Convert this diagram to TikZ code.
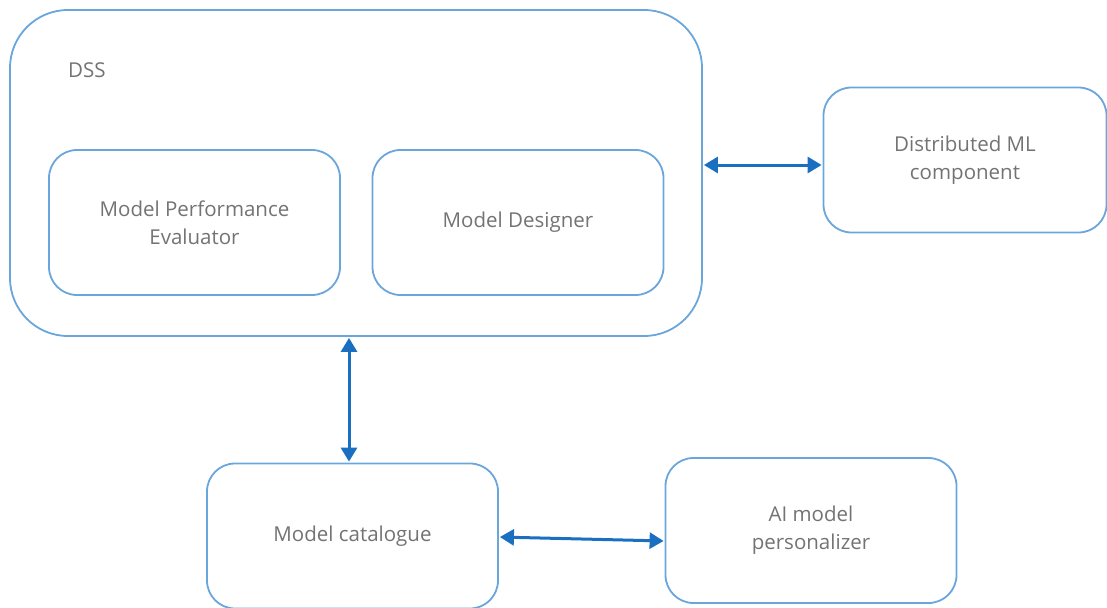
\documentclass[tikz,border=0pt]{standalone}
\usepackage{fontspec}
\setmainfont{Open Sans}
\usetikzlibrary{arrows.meta}
\definecolor{boxline}{HTML}{6AA6DC}
\definecolor{arrowblue}{HTML}{1A6FC0}
\definecolor{labelgray}{HTML}{737373}
\tikzset{
  labelfont/.style={text=labelgray, font=\fontsize{20.5}{28}\selectfont},
  module/.style={draw=boxline, line width=1.8pt, rounded corners=28pt,
    minimum width=291pt, minimum height=145pt, align=center,
    labelfont, inner sep=0pt},
  link/.style={draw=arrowblue, line width=3pt,
    {Triangle[length=14pt,width=16pt]}-{Triangle[length=14pt,width=16pt]}, shorten <=1pt, shorten >=1pt}
}
\begin{document}
\begin{tikzpicture}[x=1pt,y=-1pt]
\useasboundingbox (0,0) rectangle (1107,607);
% outer DSS container
\node[draw=boxline, line width=1.8pt, rounded corners=58pt, minimum width=692pt,
  minimum height=326pt, inner sep=0pt] (dss) at (356,173) {};
\node[labelfont, anchor=west, inner sep=0pt] (dsslabel) at (68,70) {DSS};
% inner modules
\node[module] (mpe) at (194.5,222.5) {Model Performance\\Evaluator};
\node[module] (md) at (518,222.5) {Model Designer};
% external components
\node[module, minimum width=283pt] (dml) at (965,160) {Distributed ML\\component};
\node[module] (mc) at (352.5,536) {Model catalogue};
\node[module] (aip) at (811,530.5) {AI model\\personalizer};
% connectors
\draw[link] (dss.east |- 0,165) -- (dml.west |- 0,165);
\draw[link] (dss.south -| 349,0) -- (mc.north -| 349,0);
\draw[link] (mc.east |- 0,537) -- (aip.west |- 0,541);
\end{tikzpicture}
\end{document}
